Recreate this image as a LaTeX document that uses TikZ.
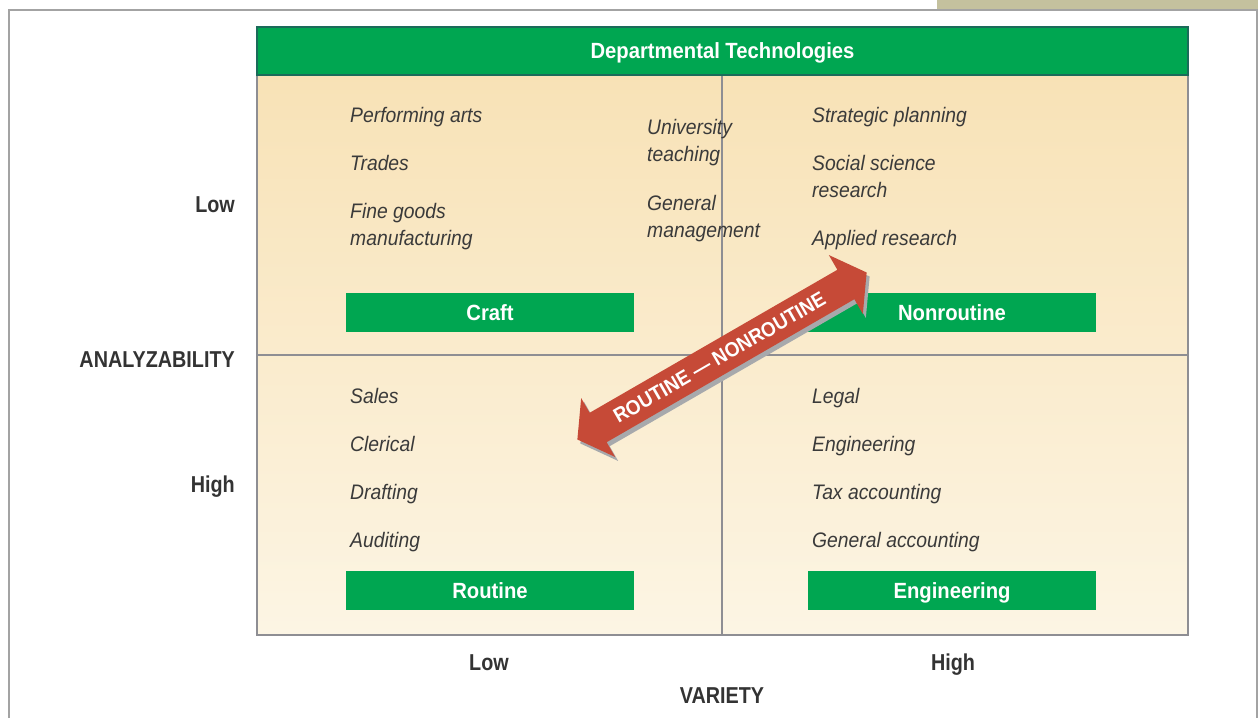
\documentclass[tikz,border=0pt]{standalone}
\usepackage{fontspec}
\setmainfont{Liberation Sans}
\newfontfamily\condit[FakeStretch=0.92]{Liberation Sans}
\newfontfamily\condbf[FakeStretch=0.86]{Liberation Sans}
\newfontfamily\condbfw[FakeStretch=0.92]{Liberation Sans}
\definecolor{dgreen}{HTML}{00A651}
\definecolor{teal}{HTML}{1B6B5A}
\definecolor{beige}{HTML}{C4C19E}
\definecolor{framegray}{HTML}{A3A3A3}
\definecolor{linegray}{HTML}{8E8E93}
\definecolor{bgtop}{HTML}{F8E2B6}
\definecolor{bgbot}{HTML}{FCF5E4}
\definecolor{txt}{HTML}{3A3A3A}
\definecolor{labc}{HTML}{333333}
\definecolor{arrred}{HTML}{C64A37}
\definecolor{shadowgray}{HTML}{A7A9AC}
\tikzset{
  item/.style={font=\condit\itshape\fontsize{21}{27}\selectfont, text=txt, anchor=base west, inner sep=0pt, align=left},
  axlab/.style={font=\condbf\bfseries\fontsize{23}{27}\selectfont, text=labc, inner sep=0pt},
  gbox/.style={fill=dgreen, draw=none, minimum width=288pt, minimum height=39pt, inner sep=0pt,
    text=white, font=\condbfw\bfseries\fontsize{22}{26}\selectfont, text height=15pt, text depth=0pt},
}
\begin{document}
\begin{tikzpicture}[x=1pt,y=-1pt]
\useasboundingbox (0,0) rectangle (1258,718);
% outer frame
\fill[beige] (937,0) rectangle (1258,10);
\draw[framegray, line width=1.5pt] (9,718) -- (9,10) -- (1257,10) -- (1257,718);
% quadrant background
\shade[top color=bgtop, bottom color=bgbot] (257,75) rectangle (1188,635);
\draw[linegray, line width=2pt] (722,75) -- (722,635);
\draw[linegray, line width=2pt] (257,355) -- (1188,355);
\draw[linegray, line width=2.5pt] (257,75) rectangle (1188,635);
% header
\node[fill=dgreen, draw=teal, line width=2pt, minimum width=931pt, minimum height=48pt, inner sep=0pt,
  text=white, font=\condbfw\bfseries\fontsize{22}{26}\selectfont, text height=14pt, text depth=0pt]
  (header) at (722.5,51) {Departmental Technologies};
% green boxes
\node[gbox] (craft) at (490,312.5) {Craft};
\node[gbox] (nonroutine) at (952,312.5) {Nonroutine};
\node[gbox] (routine) at (490,590.5) {Routine};
\node[gbox] (engineering) at (952,590.5) {Engineering};
% items (base = baseline of last line)
\node[item] (pa) at (350,122) {Performing arts};
\node[item] (tr) at (350,170) {Trades};
\node[item] (fg) at (350,245) {Fine goods\\manufacturing};
\node[item] (ut) at (647,161) {University\\teaching};
\node[item] (gm) at (647,237) {General\\management};
\node[item] (sp) at (812,122) {Strategic planning};
\node[item] (ss) at (812,197) {Social science\\research};
\node[item] (ar) at (812,245) {Applied research};
\node[item] (sa) at (350,403) {Sales};
\node[item] (cl) at (350,451) {Clerical};
\node[item] (dr) at (350,499) {Drafting};
\node[item] (au) at (350,547) {Auditing};
\node[item] (le) at (812,403) {Legal};
\node[item] (en) at (812,451) {Engineering};
\node[item] (ta) at (812,499) {Tax accounting};
\node[item] (ga) at (812,547) {General accounting};
% axis labels
\node[axlab, anchor=base east] (lowy) at (235,212) {Low};
\node[axlab, anchor=base east] (analyz) at (235,367) {ANALYZABILITY};
\node[axlab, anchor=base east] (highy) at (235,492) {High};
\node[axlab, anchor=base] (lowx) at (489,670) {Low};
\node[axlab, anchor=base] (highx) at (953,670) {High};
\node[axlab, anchor=base] (variety) at (722,703) {VARIETY};
% arrow
\begin{scope}[shift={(725,360)}, rotate=30]
\fill[shadowgray] (-167,0) -- (-143,-34) -- (-143,-17) -- (143,-17) -- (143,-34) -- (167,0)
  -- (143,34) -- (143,17) -- (-143,17) -- (-143,34) -- cycle;
\end{scope}
\begin{scope}[shift={(722,356)}, rotate=30]
\fill[arrred] (-167,0) -- (-143,-34) -- (-143,-17) -- (143,-17) -- (143,-34) -- (167,0)
  -- (143,34) -- (143,17) -- (-143,17) -- (-143,34) -- cycle;
\node[text=white, font=\condbfw\bfseries\fontsize{20.5}{24}\selectfont, inner sep=0pt, rotate=30] (arrtext) at (-3,0) {ROUTINE — NONROUTINE};
\end{scope}
\end{tikzpicture}
\end{document}
